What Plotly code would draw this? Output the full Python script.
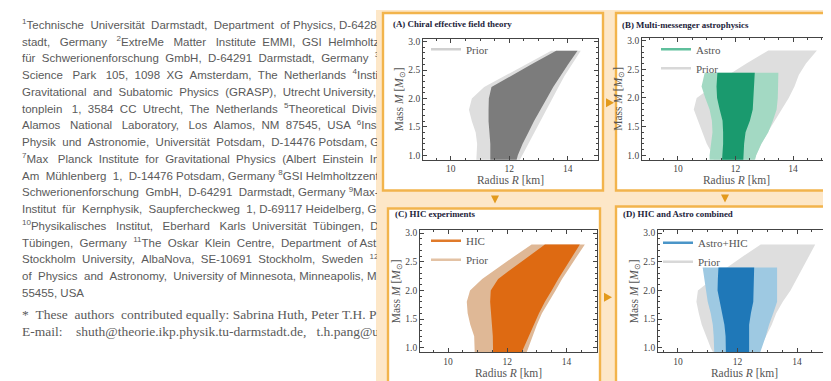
import plotly.graph_objects as go

W, H = 831, 381

# ---------------- data ----------------
# Panel A: chiral EFT prior
A_M        = [0.9, 1.0, 1.2, 1.4, 1.6, 1.8, 2.0, 2.2, 2.4, 2.6, 2.84]
A_outer_lo = [10.87, 10.88, 10.9, 10.85, 10.72, 10.62, 10.72, 11.14, 11.86, 12.57, 13.43]
A_outer_hi = [12.34, 12.43, 12.64, 12.85, 13.06, 13.27, 13.47, 13.68, 13.89, 14.14, 14.44]
A_inner_lo = [11.35, 11.35, 11.35, 11.32, 11.29, 11.29, 11.3, 11.39, 12.06, 12.76, 13.6]
A_inner_hi = [12.24, 12.29, 12.45, 12.65, 12.84, 13.06, 13.28, 13.5, 13.75, 14.01, 14.33]

# Panel B: multi-messenger astrophysics
B_prior_M  = [0.9, 1.0, 1.2, 1.4, 1.6, 1.8, 2.0, 2.2, 2.4, 2.6, 2.83]
B_prior_lo = [11.25, 11.22, 11.0, 10.85, 10.68, 10.55, 10.65, 11.18, 11.75, 12.38, 13.14]
B_prior_hi = [12.62, 12.7, 12.9, 13.12, 13.35, 13.6, 13.85, 14.05, 14.2, 14.45, 14.83]
B_M        = [0.9, 1.0, 1.2, 1.4, 1.6, 1.8, 2.0, 2.2, 2.44]
B_outer_lo = [11.1, 11.1, 11.15, 11.2, 11.18, 11.1, 10.95, 10.82, 10.93]
B_outer_hi = [12.67, 12.72, 12.9, 13.14, 13.3, 13.43, 13.47, 13.48, 13.49]
B_inner_lo = [11.53, 11.55, 11.57, 11.57, 11.55, 11.45, 11.36, 11.34, 11.37]
B_inner_hi = [12.27, 12.28, 12.3, 12.35, 12.5, 12.6, 12.63, 12.65, 12.67]

# Panel C: HIC experiments
C_M        = [0.9, 1.0, 1.2, 1.4, 1.6, 1.8, 2.0, 2.2, 2.4, 2.6, 2.8]
C_prior_lo = [10.9, 10.9, 10.88, 10.75, 10.66, 10.63, 10.74, 11.15, 11.69, 12.25, 12.82]
C_prior_hi = [12.64, 12.7, 12.85, 13.0, 13.17, 13.4, 13.63, 13.85, 14.1, 14.36, 14.62]
C_hic_lo   = [11.52, 11.52, 11.51, 11.48, 11.45, 11.42, 11.44, 11.69, 12.21, 12.74, 13.27]
C_hic_hi   = [12.47, 12.55, 12.72, 12.89, 13.07, 13.27, 13.5, 13.72, 13.96, 14.2, 14.45]

# Panel D: HIC and Astro combined
D_prior_M  = [0.9, 1.0, 1.2, 1.4, 1.6, 1.8, 2.0, 2.2, 2.4, 2.6, 2.8]
D_prior_lo = [11.2, 11.1, 10.95, 10.8, 10.7, 10.62, 10.67, 11.15, 11.65, 12.2, 12.78]
D_prior_hi = [12.67, 12.75, 12.95, 13.15, 13.3, 13.52, 13.78, 14.0, 14.2, 14.4, 14.61]
D_M        = [0.9, 1.0, 1.2, 1.4, 1.6, 1.8, 2.0, 2.2, 2.4]
D_outer_lo = [11.22, 11.22, 11.2, 11.17, 11.1, 11.0, 10.95, 10.89, 10.83]
D_outer_hi = [12.75, 12.8, 12.95, 13.06, 13.2, 13.33, 13.33, 13.33, 13.33]
D_inner_lo = [11.61, 11.61, 11.6, 11.56, 11.48, 11.4, 11.33, 11.34, 11.36]
D_inner_hi = [12.39, 12.39, 12.39, 12.39, 12.45, 12.53, 12.54, 12.55, 12.56]

X_TICK_VALUES = [10, 12, 14]
X_TICK_LABELS = ["10", "12", "14"]
Y_TICK_VALUES = [1.0, 1.5, 2.0, 2.5, 3.0]
Y_TICK_LABELS = ["1.0", "1.5", "2.0", "2.5", "3.0"]

# Text column, as far as it is visible before the figure covers it
AFFIL_LINES = [
    "<sup>1</sup>Technische Universität Darmstadt, Department of Physics, D-6428",
    "stadt, Germany <sup>2</sup>ExtreMe Matter Institute EMMI, GSI Helmholtz",
    "für Schwerionenforschung GmbH, D-64291 Darmstadt, Germany <sup>3</sup>",
    "Science Park 105, 1098 XG Amsterdam, The Netherlands <sup>4</sup>Insti",
    "Gravitational and Subatomic Physics (GRASP), Utrecht University,",
    "tonplein 1, 3584 CC Utrecht, The Netherlands <sup>5</sup>Theoretical Divisi",
    "Alamos National Laboratory, Los Alamos, NM 87545, USA <sup>6</sup>Ins",
    "Physik und Astronomie, Universität Potsdam, D-14476 Potsdam, G",
    "<sup>7</sup>Max Planck Institute for Gravitational Physics (Albert Einstein In",
    "Am Mühlenberg 1, D-14476 Potsdam, Germany <sup>8</sup>GSI Helmholtzzent",
    "Schwerionenforschung GmbH, D-64291 Darmstadt, Germany <sup>9</sup>Max-",
    "Institut für Kernphysik, Saupfercheckweg 1, D-69117 Heidelberg, G",
    "<sup>10</sup>Physikalisches Institut, Eberhard Karls Universität Tübingen, D",
    "Tübingen, Germany <sup>11</sup>The Oskar Klein Centre, Department of Ast",
    "Stockholm University, AlbaNova, SE-10691 Stockholm, Sweden <sup>12</sup>",
    "of Physics and Astronomy, University of Minnesota, Minneapolis, M",
    "55455, USA",
]
FOOT_LINES = [
    "* These authors contributed equally: Sabrina Huth, Peter T.H. P",
    "E-mail: shuth@theorie.ikp.physik.tu-darmstadt.de, t.h.pang@u",
]

# ---------------- helpers ----------------
def px_x(x):
    return x / W

def px_y(y):
    return 1 - y / H

SERIF = "Liberation Serif"
SANS = "Liberation Sans"
ORANGE = "#f2b44c"

# character advance widths (1/1000 em) of the metric-compatible Arial / Times faces
SANS_W = {" ": 278, "\u00a0": 278, "(": 333, ")": 333, "*": 389, ",": 278, "-": 333, ".": 278,
          ":": 278, "@": 1015, "ä": 556, "ü": 556, "ö": 556}
SANS_W.update({d: 556 for d in "0123456789"})
SANS_W.update(dict(zip("ABCDEFGHIJKLMNOPQRSTUVWXYZ",
                       [667, 667, 722, 722, 667, 611, 778, 722, 278, 500, 667, 556, 833, 722,
                        778, 667, 778, 722, 667, 611, 722, 667, 944, 667, 667, 611])))
SANS_W.update(dict(zip("abcdefghijklmnopqrstuvwxyz",
                       [556, 556, 500, 556, 556, 278, 556, 556, 222, 222, 500, 222, 833, 556,
                        556, 556, 556, 333, 500, 278, 556, 500, 722, 500, 500, 500])))
SERIF_W = {" ": 250, "\u00a0": 250, "(": 333, ")": 333, "*": 500, ",": 250, "-": 333, ".": 250,
           ":": 278, "@": 921}
SERIF_W.update({d: 500 for d in "0123456789"})
SERIF_W.update(dict(zip("ABCDEFGHIJKLMNOPQRSTUVWXYZ",
                        [722, 667, 667, 722, 611, 556, 722, 722, 333, 389, 722, 611, 889, 722,
                         722, 556, 722, 667, 556, 611, 722, 722, 944, 722, 722, 611])))
SERIF_W.update(dict(zip("abcdefghijklmnopqrstuvwxyz",
                        [444, 500, 444, 500, 444, 333, 500, 500, 278, 278, 500, 278, 778, 500,
                         500, 500, 500, 333, 389, 278, 500, 500, 722, 500, 500, 444])))

def text_width(s, size, table):
    w, i, scale = 0.0, 0, 1.0
    while i < len(s):
        if s.startswith("<sup>", i):
            scale, i = 0.7, i + 5
            continue
        if s.startswith("</sup>", i):
            scale, i = 1.0, i + 6
            continue
        w += table.get(s[i], 520) * scale
        i += 1
    return w * size / 1000.0

def justify(line, size, table, target):
    """the page is justified: spread the visible words over `target` px with no-break spaces"""
    n = line.count(" ")
    if n == 0:
        return line
    extra = target - text_width(line, size, table)
    k = max(0, int(round(extra / (table[" "] * size / 1000.0))))
    parts = line.split(" ")
    out = parts[0]
    for j, p in enumerate(parts[1:]):
        add = k // n + (1 if j < k % n else 0)
        out += " " + "\u00a0" * add + p
    return out

fig = go.Figure()

def band(ax, M, lo, hi, color):
    xs = list(lo) + list(hi)[::-1]
    ys = list(M) + list(M)[::-1]
    fig.add_trace(go.Scatter(x=xs, y=ys, fill="toself", fillcolor=color,
                             line=dict(width=0), mode="lines", hoverinfo="skip",
                             showlegend=False, xaxis="x" + ax, yaxis="y" + ax))

def legend_item(ax, name, color, leg):
    fig.add_trace(go.Scatter(x=[None], y=[None], mode="lines", name=name,
                             line=dict(color=color, width=2.5),
                             xaxis="x" + ax, yaxis="y" + ax, legend=leg))

GRAY_L = "#dedede"
GRAY_D = "#7c7c7c"

# Panel A
band("", A_M, A_outer_lo, A_outer_hi, GRAY_L)
band("", A_M, A_inner_lo, A_inner_hi, GRAY_D)
legend_item("", "Prior", "#d0d0d0", "legend")

# Panel B
band("2", B_prior_M, B_prior_lo, B_prior_hi, GRAY_L)
band("2", B_M, B_outer_lo, B_outer_hi, "#a3d9c3")
band("2", B_M, B_inner_lo, B_inner_hi, "#1a9a6e")
legend_item("2", "Astro", "#5fbf9c", "legend2")
legend_item("2", "Prior", "#d8d8d8", "legend2")

# Panel C
band("3", C_M, C_prior_lo, C_prior_hi, "#dfb896")
band("3", C_M, C_hic_lo, C_hic_hi, "#de6a12")
legend_item("3", "HIC", "#e07a2a", "legend3")
legend_item("3", "Prior", "#e3c2a4", "legend3")

# Panel D
band("4", D_prior_M, D_prior_lo, D_prior_hi, GRAY_L)
band("4", D_M, D_outer_lo, D_outer_hi, "#9ec9e2")
band("4", D_M, D_inner_lo, D_inner_hi, "#1f78b8")
legend_item("4", "Astro+HIC", "#4a95c8", "legend4")
legend_item("4", "Prior", "#d8d8d8", "legend4")

# Left column of text (clipped by its own hidden subplot where the figure covers it)
TX0, TX1 = 15, 371
SANS_SIZE, SERIF_SIZE = 11.5, 13.5
affil = [justify(v, SANS_SIZE, SANS_W, TX1 - TX0) if i < len(AFFIL_LINES) - 1 else v
         for i, v in enumerate(AFFIL_LINES)]
foot = [justify(v, SERIF_SIZE, SERIF_W, TX1 - TX0) for v in FOOT_LINES]
affil_y = [16 + 16.9 * k for k in range(len(affil))]
fig.add_trace(go.Scatter(x=[TX0 - 1] * len(affil), y=affil_y, text=affil,
                         mode="text", textposition="middle right", marker=dict(size=1),
                         textfont=dict(family=SANS, size=SANS_SIZE, color="#5a5a5a"),
                         hoverinfo="skip", showlegend=False, xaxis="x5", yaxis="y5"))
fig.add_trace(go.Scatter(x=[TX0 - 1] * 2, y=[308, 325], text=foot,
                         mode="text", textposition="middle right", marker=dict(size=1),
                         textfont=dict(family=SERIF, size=SERIF_SIZE, color="#5a5a5a"),
                         hoverinfo="skip", showlegend=False, xaxis="x5", yaxis="y5"))

# ---------------- axes ----------------
# pixel boxes of the four plot areas: (left, right, top, bottom) and x ranges
boxes = {
    "": ((415, 590, 29, 151), [9.05, 15.03]),
    "2": ((634, 823, 28, 151), [8.75, 15.32]),
    "3": ((412, 589, 222, 345), [9.05, 15.03]),
    "4": ((650, 823, 222, 345), [9.33, 15.14]),
}

layout = dict(width=W, height=H, margin=dict(l=0, r=0, t=0, b=0),
              paper_bgcolor="white", plot_bgcolor="rgba(0,0,0,0)", showlegend=True)

for n, ((l, r, t, b), xr) in boxes.items():
    axis_common = dict(ticks="inside", ticklen=4, tickwidth=0.8, tickcolor="#444",
                       showline=True, linecolor="#444", linewidth=0.8, mirror="allticks",
                       showgrid=False, zeroline=False,
                       tickfont=dict(family=SERIF, size=9.5, color="#444"))
    layout["xaxis" + n] = dict(axis_common, domain=[px_x(l), px_x(r)], anchor="y" + n,
                               range=xr, tickvals=X_TICK_VALUES, ticktext=X_TICK_LABELS,
                               minor=dict(ticks="inside", ticklen=2, dtick=0.5, tick0=9,
                                          tickcolor="#444", tickwidth=0.6),
                               title=dict(text="Radius <i>R</i> [km]", standoff=1,
                                          font=dict(family=SERIF, size=11.5, color="#555")))
    layout["yaxis" + n] = dict(axis_common, domain=[px_y(b), px_y(t)], anchor="x" + n,
                               range=[0.92, 3.05], tickvals=Y_TICK_VALUES, ticktext=Y_TICK_LABELS,
                               minor=dict(ticks="inside", ticklen=2, dtick=0.1, tick0=1.0,
                                          tickcolor="#444", tickwidth=0.6),
                               title=dict(text="Mass <i>M</i> [<i>M</i><sub>⊙</sub>]", standoff=2,
                                          font=dict(family=SERIF, size=11.5, color="#555")))

layout["xaxis5"] = dict(domain=[0, px_x(369)], range=[0, 369], visible=False, anchor="y5")
layout["yaxis5"] = dict(domain=[0, 1], range=[H, 0], visible=False, anchor="x5")

leg_common = dict(bgcolor="rgba(0,0,0,0)", borderwidth=0, xanchor="left", yanchor="top",
                  font=dict(family=SERIF, size=11, color="#555"), tracegroupgap=0)
layout["legend"] = dict(leg_common, x=px_x(418), y=px_y(25))
layout["legend2"] = dict(leg_common, x=px_x(648), y=px_y(25))
layout["legend3"] = dict(leg_common, x=px_x(418), y=px_y(218))
layout["legend4"] = dict(leg_common, x=px_x(650), y=px_y(220))

# ---------------- decoration: figure background, panel frames, arrows ----------------
shapes = []
shapes.append(dict(type="rect", xref="paper", yref="paper", x0=px_x(368), x1=1, y0=0, y1=1,
                   fillcolor="#fde7c8", line=dict(width=0), layer="below"))
frames = [(375, 595, 3, 182), (608, 828, 3, 182), (380, 592, 200, 378), (608, 828, 198, 378)]
for (l, r, t, b) in frames:
    shapes.append(dict(type="rect", xref="paper", yref="paper", x0=px_x(l), x1=px_x(r),
                       y0=px_y(b), y1=px_y(t), fillcolor="white",
                       line=dict(color=ORANGE, width=2.4), layer="below"))

def tri(points):
    p = "M " + " L ".join(f"{px_x(x):.5f},{px_y(y):.5f}" for x, y in points) + " Z"
    return dict(type="path", xref="paper", yref="paper", path=p,
                fillcolor="#e39a1c", line=dict(width=0), layer="above")

shapes.append(tri([(598, 89), (606, 93.5), (598, 98)]))
shapes.append(tri([(596, 285), (604, 289.5), (596, 294)]))
shapes.append(tri([(483, 187), (491, 187), (487, 195)]))
shapes.append(tri([(713, 186), (721, 186), (717, 194)]))
layout["shapes"] = shapes

titles = [
    ("(A) Chiral effective field theory", 383, 14),
    ("(B) Multi-messenger astrophysics", 612, 15),
    ("(C) HIC experiments", 385, 206),
    ("(D) HIC and Astro combined", 613, 206),
]
layout["annotations"] = [
    dict(text="<b>" + t + "</b>", x=px_x(x), y=px_y(y), xref="paper", yref="paper",
         xanchor="left", yanchor="middle", showarrow=False,
         font=dict(family=SERIF, size=8.9, color="#1c1c3a"))
    for t, x, y in titles
]

fig.update_layout(**layout)
fig.write_html("out.html")
